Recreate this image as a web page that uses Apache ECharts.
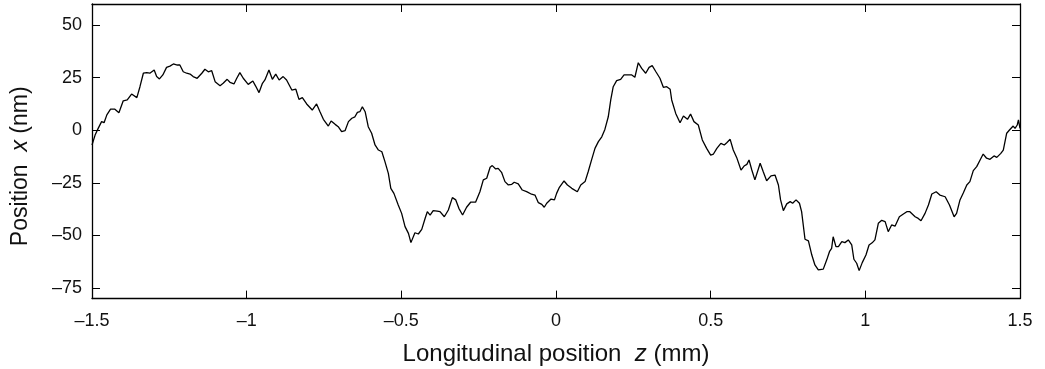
<!DOCTYPE html>
<html>
<head>
<meta charset="utf-8">
<script src="https://cdn.jsdelivr.net/npm/echarts@6/dist/echarts.min.js"></script>
<style>
html,body{margin:0;padding:0;background:#fff;}
#chart{width:1045px;height:369px;}
</style>
</head>
<body>
<div id="chart"></div>
<script>
// Longitudinal position z (mm)
const zValues = [
-1.500,-1.490,-1.480,-1.469,-1.461,-1.452,-1.440,-1.426,-1.413,-1.399,-1.386,-1.372,-1.355,-1.345,-1.334,-1.323,-1.313,-1.307,-1.299,-1.291,
-1.282,-1.271,-1.259,-1.248,-1.237,-1.224,-1.216,-1.205,-1.194,-1.183,-1.173,-1.160,-1.145,-1.135,-1.124,-1.113,-1.102,-1.086,-1.076,-1.063,
-1.054,-1.041,-1.032,-1.022,-1.011,-0.995,-0.980,-0.971,-0.960,-0.949,-0.941,-0.928,-0.917,-0.906,-0.895,-0.882,-0.871,-0.854,-0.841,-0.831,
-0.820,-0.806,-0.788,-0.774,-0.763,-0.752,-0.736,-0.727,-0.714,-0.704,-0.693,-0.682,-0.671,-0.660,-0.650,-0.642,-0.634,-0.626,-0.617,-0.607,
-0.596,-0.585,-0.574,-0.563,-0.553,-0.542,-0.534,-0.524,-0.510,-0.499,-0.488,-0.477,-0.469,-0.456,-0.445,-0.434,-0.423,-0.416,-0.407,-0.397,
-0.384,-0.375,-0.361,-0.348,-0.335,-0.324,-0.314,-0.302,-0.289,-0.276,-0.260,-0.246,-0.235,-0.224,-0.213,-0.206,-0.195,-0.187,-0.176,-0.165,
-0.154,-0.143,-0.135,-0.122,-0.109,-0.095,-0.079,-0.068,-0.057,-0.046,-0.038,-0.030,-0.016,-0.005,0.002,0.011,0.026,0.037,0.051,0.069,
0.080,0.094,0.104,0.115,0.126,0.137,0.148,0.158,0.169,0.177,0.185,0.196,0.209,0.220,0.234,0.245,0.255,0.266,0.277,0.290,
0.301,0.311,0.323,0.336,0.347,0.358,0.369,0.374,0.387,0.401,0.412,0.425,0.435,0.446,0.460,0.473,0.487,0.500,0.509,0.520,
0.533,0.544,0.552,0.563,0.573,0.584,0.598,0.608,0.617,0.624,0.633,0.643,0.660,0.670,0.681,0.695,0.708,0.719,0.726,0.735,
0.746,0.757,0.765,0.776,0.787,0.794,0.805,0.816,0.827,0.837,0.848,0.864,0.875,0.884,0.891,0.896,0.905,0.913,0.924,0.934,
0.945,0.956,0.963,0.972,0.980,0.990,1.002,1.012,1.022,1.031,1.042,1.053,1.064,1.074,1.085,1.096,1.110,1.123,1.134,1.144,
1.161,1.171,1.180,1.193,1.204,1.215,1.229,1.241,1.258,1.272,1.287,1.295,1.306,1.317,1.328,1.338,1.349,1.360,1.371,1.381,
1.392,1.403,1.416,1.425,1.438,1.446,1.457,1.466,1.478,1.484,1.491,1.495,1.500
];
// Position x (nm)
const xValues = [
-7.0,-2.3,0.9,4.1,3.6,7.3,10.0,10.0,8.3,14.0,14.4,17.2,15.5,20.7,27.1,27.4,27.1,27.8,28.6,25.5,
24.4,26.3,29.9,30.5,31.5,31.0,31.0,27.8,27.1,26.7,25.5,24.7,27.1,29.0,27.8,28.3,23.1,21.2,22.3,24.2,
22.8,22.0,24.7,27.4,24.7,21.8,23.4,21.0,17.9,22.3,23.9,28.6,24.2,26.7,23.9,25.5,23.9,19.1,19.5,14.7,
15.5,12.5,9.6,12.5,8.8,5.2,2.0,4.4,2.8,1.7,-0.7,-0.2,4.1,5.7,6.4,8.5,8.8,11.2,8.8,1.7,
-1.4,-7.0,-9.4,-10.2,-14.9,-20.5,-27.6,-30.0,-35.5,-39.5,-45.8,-49.0,-53.4,-48.7,-49.3,-47.1,-41.8,-38.7,-40.3,-38.2,
-38.4,-38.7,-41.1,-37.9,-32.0,-33.1,-37.1,-40.3,-36.6,-34.2,-34.2,-29.2,-23.6,-22.8,-17.6,-16.8,-18.4,-18.1,-20.0,-24.4,
-26.0,-25.7,-24.7,-25.5,-28.4,-29.2,-30.4,-30.8,-34.4,-35.2,-36.6,-34.7,-32.7,-33.1,-30.0,-27.1,-24.1,-26.0,-27.6,-29.2,
-26.0,-24.4,-19.7,-14.1,-8.6,-5.4,-3.1,0.4,6.4,14.4,20.7,23.6,24.2,26.3,26.3,26.3,25.2,32.1,29.4,27.1,
29.9,30.7,27.8,24.7,20.4,20.7,19.5,14.4,8.0,3.6,6.8,5.2,7.7,4.1,2.5,-4.6,-8.6,-11.8,-11.3,-8.6,
-6.2,-7.0,-5.9,-4.3,-9.4,-12.9,-18.9,-17.0,-16.2,-14.1,-18.9,-23.6,-15.7,-19.7,-24.0,-21.7,-21.3,-26.0,-33.1,-38.2,
-35.0,-33.9,-34.7,-33.1,-34.7,-38.7,-51.8,-52.6,-59.3,-64.0,-66.4,-66.0,-61.7,-57.7,-56.1,-50.6,-55.3,-55.3,-52.9,-53.4,
-52.1,-54.5,-61.3,-63.2,-66.7,-62.9,-59.3,-54.5,-53.5,-52.1,-44.2,-42.8,-43.4,-48.2,-45.0,-45.6,-41.1,-39.8,-38.7,-38.7,
-41.1,-41.9,-43.0,-39.5,-35.5,-30.3,-29.2,-30.8,-31.6,-35.5,-41.1,-39.5,-33.1,-29.7,-26.0,-24.4,-19.2,-17.3,-14.1,-11.3,
-13.3,-13.8,-12.2,-12.9,-11.0,-9.4,-1.4,0.1,2.0,0.9,2.5,4.9,0.9
];
const xTickLabels = ['\u20131.5','\u20131','\u20130.5','0','0.5','1','1.5'];
const yTickValues = [-75,-50,-25,0,25,50];
const yTickLabels = ['\u201375','\u201350','\u201325','0','25','50'];

const seriesData = zValues.map((z, i) => [z, xValues[i]]);
const txt = '#111111';
const font = '"Liberation Sans", Arial, sans-serif';
const lineCfg = { show: true, onZero: false, lineStyle: { color: '#000', width: 1.3 } };
const tickCfg = { show: true, inside: true, length: 8, lineStyle: { color: '#000', width: 1 } };

const chart = echarts.init(document.getElementById('chart'));
chart.setOption({
  animation: false,
  backgroundColor: '#ffffff',
  grid: { left: 92, top: 4, width: 928, height: 294.6, outerBoundsMode: 'none', containLabel: false },
  xAxis: [{
    type: 'value', min: -1.5, max: 1.5, interval: 0.5, position: 'bottom',
    name: 'Longitudinal position  {i|z} (mm)', nameLocation: 'middle', nameGap: 44,
    nameTextStyle: { fontSize: 24, color: txt, fontFamily: font,
      rich: { i: { fontSize: 24, fontStyle: 'italic', color: txt, fontFamily: font } } },
    axisLine: lineCfg,
    axisTick: tickCfg,
    axisLabel: { show: true, fontSize: 18, color: txt, fontFamily: font, margin: 13,
      formatter: v => xTickLabels[Math.round((v + 1.5) / 0.5)] },
    splitLine: { show: false }
  }, {
    type: 'value', min: -1.5, max: 1.5, interval: 0.5, position: 'top',
    axisLine: lineCfg, axisTick: tickCfg,
    axisLabel: { show: false }, splitLine: { show: false }
  }],
  yAxis: [{
    type: 'value', min: -80, max: 60, position: 'left',
    name: 'Position  {i|x} (nm)', nameLocation: 'middle', nameGap: 60,
    nameTextStyle: { fontSize: 23, color: txt, fontFamily: font, padding: [0, 30, 0, 0],
      rich: { i: { fontSize: 23, fontStyle: 'italic', color: txt, fontFamily: font } } },
    axisLine: lineCfg,
    axisTick: Object.assign({}, tickCfg, { customValues: yTickValues }),
    axisLabel: { show: true, fontSize: 18, color: txt, fontFamily: font, margin: 10,
      customValues: yTickValues,
      formatter: v => yTickLabels[yTickValues.indexOf(Math.round(v))] },
    splitLine: { show: false }
  }, {
    type: 'value', min: -80, max: 60, position: 'right',
    axisLine: lineCfg,
    axisTick: Object.assign({}, tickCfg, { customValues: yTickValues }),
    axisLabel: { show: false }, splitLine: { show: false }
  }],
  series: [{
    type: 'line', xAxisIndex: 0, yAxisIndex: 0, data: seriesData,
    showSymbol: false, symbol: 'none', smooth: false,
    lineStyle: { color: '#000', width: 1.3 }
  }]
});
</script>
</body>
</html>
